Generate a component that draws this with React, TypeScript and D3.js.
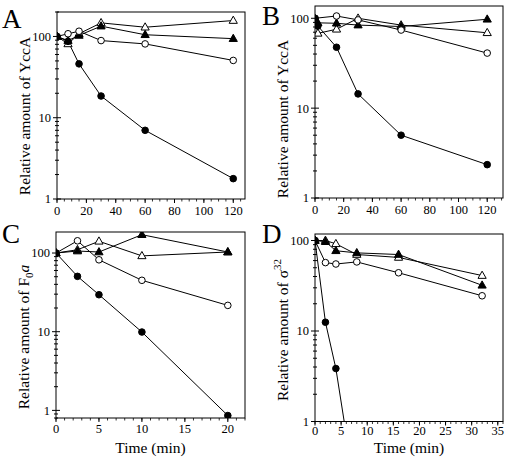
import React from "react";
import * as d3 from "d3";

// ---------- data ----------
const timesA = [0, 7.5, 15, 30, 60, 120];
const aFilledCircle = [100, 87, 46, 18.5, 7.0, 1.78];
const aOpenCircle = [100, 108, 116, 89, 81, 50.7];
const aFilledTriangle = [100, 89, 103, 134, 105, 94];
const aOpenTriangle = [100, 81, 108, 147, 130, 157];

const timesBOpenCircle = [0, 15, 30, 60, 120];
const bOpenCircle = [100, 106, 96, 74, 41];
const timesB = [0, 2, 15, 30, 60, 120];
const bFilledCircle = [100, 82, 47.6, 14.4, 5.0, 2.35];
const bFilledTriangle = [98, 89, 88, 84, 81, 97.5];
const bOpenTriangle = [98, 68, 75.5, 100, 84, 69];

const timesC = [0, 2.5, 5, 10, 20];
const cFilledCircle = [100, 50.5, 29.5, 9.9, 0.86];
const cOpenCircle = [100, 143, 82, 45, 21.6];
const cFilledTriangle = [100, 106, 103, 171, 103];
const cOpenTriangle = [100, 110, 141, 92, 103];

const timesD = [0, 2, 4, 8, 16, 32];
const timesDFilledCircle = [0, 2, 4, 8];
const dFilledCircle = [100, 12.5, 3.85, 0.13];
const dOpenCircle = [100, 57, 55, 58, 44, 24.5];
const dFilledTriangle = [100, 97, 77, 73, 70, 32];
const dOpenTriangle = [100, 100, 92, 70, 65, 41];

const xTicksAB = [0, 20, 40, 60, 80, 100, 120];
const xTicksC = [0, 5, 10, 15, 20];
const xTicksD = [0, 5, 10, 15, 20, 25, 30, 35];

type Marker = "filledCircle" | "openCircle" | "filledTriangle" | "openTriangle";
interface Series { xs: number[]; ys: number[]; marker: Marker; }

const seriesA: Series[] = [
  { xs: timesA, ys: aOpenTriangle, marker: "openTriangle" },
  { xs: timesA, ys: aFilledTriangle, marker: "filledTriangle" },
  { xs: timesA, ys: aOpenCircle, marker: "openCircle" },
  { xs: timesA, ys: aFilledCircle, marker: "filledCircle" },
];
const seriesB: Series[] = [
  { xs: timesB, ys: bOpenTriangle, marker: "openTriangle" },
  { xs: timesB, ys: bFilledTriangle, marker: "filledTriangle" },
  { xs: timesBOpenCircle, ys: bOpenCircle, marker: "openCircle" },
  { xs: timesB, ys: bFilledCircle, marker: "filledCircle" },
];
const seriesC: Series[] = [
  { xs: timesC, ys: cOpenTriangle, marker: "openTriangle" },
  { xs: timesC, ys: cFilledTriangle, marker: "filledTriangle" },
  { xs: timesC, ys: cOpenCircle, marker: "openCircle" },
  { xs: timesC, ys: cFilledCircle, marker: "filledCircle" },
];
const seriesD: Series[] = [
  { xs: timesD, ys: dOpenTriangle, marker: "openTriangle" },
  { xs: timesD, ys: dFilledTriangle, marker: "filledTriangle" },
  { xs: timesD, ys: dOpenCircle, marker: "openCircle" },
  { xs: timesDFilledCircle, ys: dFilledCircle, marker: "filledCircle" },
];

// ---------- layout ----------
interface PanelCfg {
  id: string; letter: string; lx: number; ly: number;
  left: number; right: number; top: number; bottom: number;
  xDomain: [number, number]; yDomain: [number, number];
  xTicks: number[]; xMinorStep: number; xLabelOffset: number;
  title: "yccA" | "f0a" | "sigma"; titleY: number;
  xLabel: boolean; series: Series[];
}

const panels: PanelCfg[] = [
  { id: "A", letter: "A", lx: 2, ly: 28, left: 57, right: 245, top: 12, bottom: 199,
    xDomain: [0, 128], yDomain: [1, 200], xTicks: xTicksAB, xMinorStep: 5, xLabelOffset: 16,
    title: "yccA", titleY: 116, xLabel: false, series: seriesA },
  { id: "B", letter: "B", lx: 262, ly: 25, left: 315, right: 503, top: 6, bottom: 198,
    xDomain: [0, 131], yDomain: [1, 137], xTicks: xTicksAB, xMinorStep: 5, xLabelOffset: 16,
    title: "yccA", titleY: 119, xLabel: false, series: seriesB },
  { id: "C", letter: "C", lx: 2, ly: 243, left: 56, right: 245, top: 232, bottom: 418,
    xDomain: [0, 22], yDomain: [0.8, 185], xTicks: xTicksC, xMinorStep: 1, xLabelOffset: 15,
    title: "f0a", titleY: 337, xLabel: true, series: seriesC },
  { id: "D", letter: "D", lx: 262, ly: 243, left: 315, right: 503, top: 234, bottom: 421.5,
    xDomain: [0, 36], yDomain: [1, 118], xTicks: xTicksD, xMinorStep: 1, xLabelOffset: 13.5,
    title: "sigma", titleY: 330, xLabel: true, series: seriesD },
];

const FONT = "Liberation Serif";
const fontStyle = { fontFamily: FONT };

function MarkerShape({ m, x, y }: { m: Marker; x: number; y: number }) {
  if (m === "filledCircle" || m === "openCircle") {
    return <circle cx={x} cy={y} r={3.3} fill={m === "filledCircle" ? "#000" : "#fff"} stroke="#000" strokeWidth={1} />;
  }
  const p = d3.path();
  p.moveTo(x, y - 4.4);
  p.lineTo(x + 4.1, y + 2.8);
  p.lineTo(x - 4.1, y + 2.8);
  p.closePath();
  return <path d={p.toString()} fill={m === "filledTriangle" ? "#000" : "#fff"} stroke="#000" strokeWidth={1} />;
}

function Panel({ cfg }: { cfg: PanelCfg }) {
  const x = d3.scaleLinear().domain(cfg.xDomain).range([cfg.left, cfg.right]);
  const y = d3.scaleLog().domain(cfg.yDomain).range([cfg.bottom, cfg.top]);
  const line = d3.line<[number, number]>().x(d => x(d[0])).y(d => y(d[1]));

  const yTicks: { v: number; major: boolean }[] = [];
  const [y0, y1] = cfg.yDomain;
  for (let p = Math.floor(Math.log10(y0)); p <= Math.ceil(Math.log10(y1)); p++) {
    for (let m = 1; m <= 9; m++) {
      const v = m * Math.pow(10, p);
      if (v >= y0 * 0.999 && v <= y1 * 1.001) yTicks.push({ v, major: m === 1 });
    }
  }
  const xMinor = d3.range(cfg.xDomain[0], cfg.xDomain[1] + 0.001, cfg.xMinorStep);
  const clipId = "clip" + cfg.id;
  const tx = cfg.left - 27;

  let title: React.ReactNode;
  if (cfg.title === "yccA") title = "Relative amount of YccA";
  else if (cfg.title === "f0a")
    title = (<>Relative amount of F<tspan dy={4} fontSize={11}>0</tspan><tspan dy={-4} fontStyle="italic">a</tspan></>);
  else title = (<>Relative amount of σ<tspan dy={-7} fontSize={11}>32</tspan></>);

  return (
    <g>
      <defs>
        <clipPath id={clipId}>
          <rect x={cfg.left} y={cfg.top} width={cfg.right - cfg.left} height={cfg.bottom - cfg.top} />
        </clipPath>
      </defs>
      <text x={cfg.lx} y={cfg.ly} style={fontStyle} fontSize={27}>{cfg.letter}</text>
      {yTicks.map((t, i) => (
        <g key={"yt" + i}>
          <line x1={cfg.left - (t.major ? 4 : 2)} x2={cfg.left + (t.major ? 4 : 2)} y1={y(t.v)} y2={y(t.v)} stroke="#000" strokeWidth={1} />
          {t.major && (
            <text x={cfg.left - 6} y={y(t.v)} dy="0.35em" textAnchor="end" style={fontStyle} fontSize={12.5}>{t.v}</text>
          )}
        </g>
      ))}
      {xMinor.map((v, i) => (
        <line key={"xm" + i} x1={x(v)} x2={x(v)} y1={cfg.bottom} y2={cfg.bottom + 2.5} stroke="#000" strokeWidth={0.8} />
      ))}
      {cfg.xTicks.map((v, i) => (
        <g key={"xt" + i}>
          <line x1={x(v)} x2={x(v)} y1={cfg.bottom} y2={cfg.bottom + 4} stroke="#000" strokeWidth={1} />
          <text x={x(v)} y={cfg.bottom + cfg.xLabelOffset} textAnchor="middle" style={fontStyle} fontSize={12.5}>{v}</text>
        </g>
      ))}
      <g clipPath={`url(#${clipId})`}>
        {cfg.series.map((s, i) => (
          <path key={"l" + i} d={line(s.xs.map((xv, j) => [xv, s.ys[j]] as [number, number])) || ""} fill="none" stroke="#000" strokeWidth={1} />
        ))}
        {cfg.series.map((s, i) => (
          <g key={"m" + i}>
            {s.xs.map((xv, j) => <MarkerShape key={j} m={s.marker} x={x(xv)} y={y(s.ys[j])} />)}
          </g>
        ))}
      </g>
      <rect x={cfg.left} y={cfg.top} width={cfg.right - cfg.left} height={cfg.bottom - cfg.top} fill="none" stroke="#000" strokeWidth={1} />
      <text transform={`translate(${tx},${cfg.titleY}) rotate(-90)`} textAnchor="middle" style={fontStyle} fontSize={15.5}>{title}</text>
      {cfg.xLabel && (
        <text x={(cfg.left + cfg.right) / 2} y={453} textAnchor="middle" style={fontStyle} fontSize={15.5}>Time (min)</text>
      )}
    </g>
  );
}

export default function App() {
  return (
    <svg width={509} height={457} style={{ position: "absolute", left: 0, top: 0, background: "#fff" }}>
      <rect x={0} y={0} width={509} height={457} fill="#fff" />
      {panels.map(p => <Panel key={p.id} cfg={p} />)}
    </svg>
  );
}
